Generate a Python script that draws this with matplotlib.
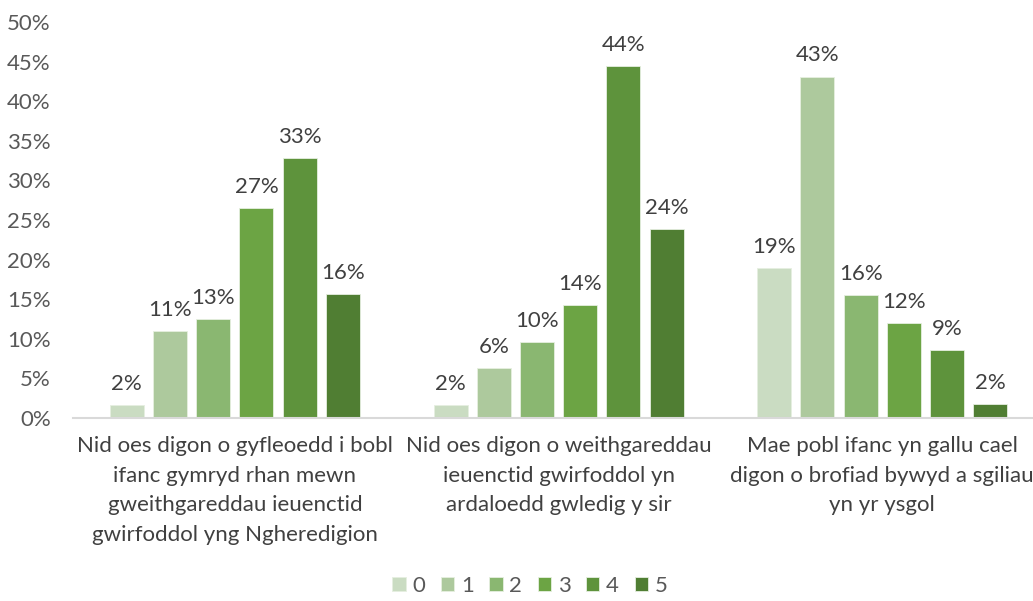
# coding:utf-8

import matplotlib.pyplot as plt
import numpy as np

categories = [
    "Nid oes digon o gyfleoedd i bobl\nifanc gymryd rhan mewn\ngweithgareddau ieuenctid\ngwirfoddol yng Ngheredigion",
    "Nid oes digon o weithgareddau\nieuenctid gwirfoddol yn\nardaloedd gwledig y sir",
    "Mae pobl ifanc yn gallu cael\ndigon o brofiad bywyd a sgiliau\nyn yr ysgol",
]
series_names = ["0", "1", "2", "3", "4", "5"]
s0 = [1.6, 1.6, 18.9]
s1 = [11.0, 6.3, 43.1]
s2 = [12.5, 9.6, 15.5]
s3 = [26.5, 14.3, 12.0]
s4 = [32.8, 44.4, 8.6]
s5 = [15.7, 23.9, 1.8]
labels0 = ["2%", "2%", "19%"]
labels1 = ["11%", "6%", "43%"]
labels2 = ["13%", "10%", "16%"]
labels3 = ["27%", "14%", "12%"]
labels4 = ["33%", "44%", "9%"]
labels5 = ["16%", "24%", "2%"]

colors = ["#cadcc2", "#adc99d", "#8ab771", "#6ca444", "#5e933c", "#507e33"]

plt.rcParams['font.family'] = ['Lato', 'DejaVu Sans']

fig = plt.figure(figsize=(10.33, 6.01), dpi=100)
ax = fig.add_axes([0.0707, 0.3045, 0.940, 0.659])

x = np.arange(len(categories))
step = 0.1335
width = 0.105
all_vals = [s0, s1, s2, s3, s4, s5]
all_labels = [labels0, labels1, labels2, labels3, labels4, labels5]
for i in range(6):
    pos = x + (i - 2.5) * step
    ax.bar(pos, all_vals[i], width, color=colors[i], edgecolor="#e6efe0",
           linewidth=0.6, label=series_names[i], zorder=2)
    for p, v, t in zip(pos, all_vals[i], all_labels[i]):
        ax.annotate(t, (p, v), xytext=(0, 8), textcoords="offset points",
                    ha="center", va="bottom", fontsize=16, color="#404040")

ax.set_xlim(-0.5, 2.5)
ax.set_ylim(0, 50)
ax.set_yticks(np.arange(0, 51, 5))
ax.set_yticklabels(["%d%%" % v for v in range(0, 51, 5)], fontsize=16, color="#595959")
ax.set_xticks(x)
ax.set_xticklabels(categories, fontsize=16, color="#404040", linespacing=1.6)
ax.tick_params(axis="both", length=0)
ax.tick_params(axis="y", pad=16)
ax.tick_params(axis="x", pad=13)
for side in ["top", "right", "left"]:
    ax.spines[side].set_visible(False)
ax.spines["bottom"].set_color("#d9d9d9")
ax.spines["bottom"].set_linewidth(1.5)

leg = fig.legend(loc="lower center", bbox_to_anchor=(0.513, -0.025), ncol=6, frameon=False,
                 fontsize=16, handlelength=0.6, handleheight=0.6, handletextpad=0.3,
                 columnspacing=0.7)
for t in leg.get_texts():
    t.set_color("#595959")

fig.savefig("out.png", dpi=100)
